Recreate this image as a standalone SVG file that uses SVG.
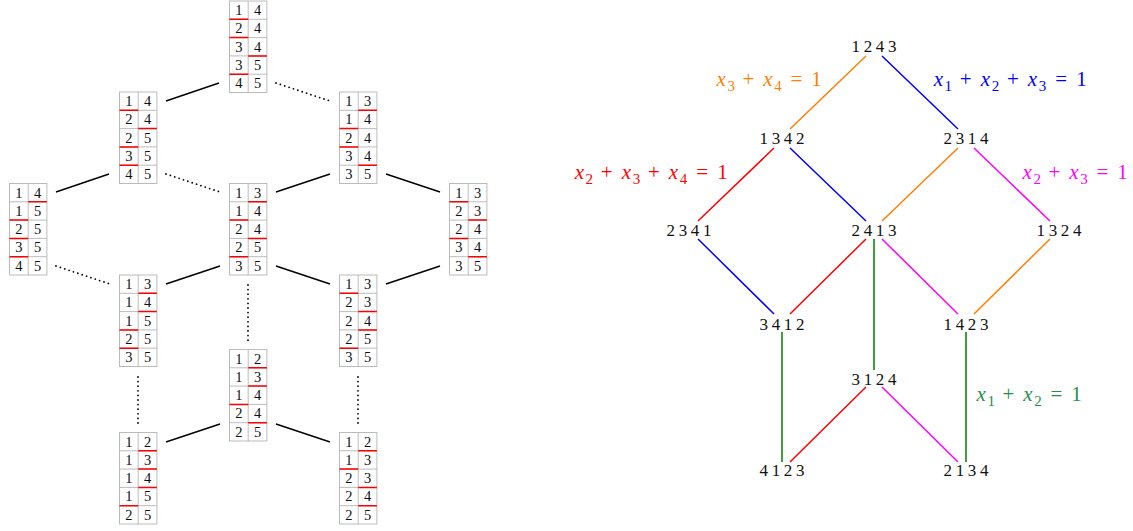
<svg xmlns="http://www.w3.org/2000/svg" xmlns:xlink="http://www.w3.org/1999/xlink" width="1133" height="531" viewBox="0 0 1133 531">
<style>
.gb{fill:#fff;stroke:#b4b4b4;stroke-width:0.9}
.gl{fill:none;stroke:#b4b4b4;stroke-width:0.9}
.r{fill:none;stroke:#ff0000;stroke-width:1.5}
.d{font-family:"Liberation Serif","DejaVu Serif",serif;font-size:14.5px;text-anchor:middle;fill:#111}
.sl{stroke:#000;stroke-width:1.4;fill:none}
.dl{stroke:#000;stroke-width:1.8;fill:none;stroke-dasharray:0 4.6;stroke-linecap:round}
.nd{font-family:"Liberation Serif","DejaVu Serif",serif;font-size:17px;letter-spacing:3.6px;text-anchor:middle;fill:#111}
.lb{font-family:"Liberation Serif","DejaVu Serif",serif;font-size:21px;text-anchor:middle}
.lb .i{font-style:italic}
.lb .s{font-size:15px}
.e{fill:none;stroke-width:1.5}
.or{stroke:#ff8000}.bl{stroke:#0000ff}.rd{stroke:#ff0000}.mg{stroke:#ff00ff}.gr{stroke:#007f00}
</style>
<defs>
<g id="grid"><rect class="gb" width="37.4" height="91.5"/><path class="gl" d="M18.7 0V91.5M0 18.3H37.4M0 36.6H37.4M0 54.9H37.4M0 73.2H37.4"/></g>
</defs>
<g id="connectors">
<path class="sl" d="M166 101L219 83M56 192L109 174M276 192L330 174M386 174L440 192M166 284L220 266M276 266L330 284M386 284L440 266M166 442L220 424M276 424L330 442"/>
<path class="dl" d="M276 83L330 101M166 174L220 192M56 266L110 284M248 285V342M138 377V425M358 377V425"/>
<path class="e or" d="M866 56L790 129M958 148L882 221M1050 239L974 314"/>
<path class="e bl" d="M882 56L958 129M790 148L866 221M698 239L774 314"/>
<path class="e rd" d="M774 148L698 221M866 239L790 314M866 387L790 462"/>
<path class="e mg" d="M974 148L1050 221M882 239L958 314M882 387L958 462"/>
<path class="e gr" d="M874 239V370M782 332V462M966 332V462"/>
</g>
<g id="t1" transform="translate(229.5 1)"><use href="#grid"/><path class="r" d="M0 18.3h18.7M0 36.6h18.7M18.7 54.9h18.7M0 73.2h18.7"/><text class="d"><tspan x="9.35" y="14">1</tspan><tspan x="28.05" y="14">4</tspan><tspan x="9.35" y="32.3">2</tspan><tspan x="28.05" y="32.3">4</tspan><tspan x="9.35" y="50.6">3</tspan><tspan x="28.05" y="50.6">4</tspan><tspan x="9.35" y="68.9">3</tspan><tspan x="28.05" y="68.9">5</tspan><tspan x="9.35" y="87.2">4</tspan><tspan x="28.05" y="87.2">5</tspan></text></g>
<g id="t2" transform="translate(119.5 92)"><use href="#grid"/><path class="r" d="M0 18.3h18.7M18.7 36.6h18.7M0 54.9h18.7M0 73.2h18.7"/><text class="d"><tspan x="9.35" y="14">1</tspan><tspan x="28.05" y="14">4</tspan><tspan x="9.35" y="32.3">2</tspan><tspan x="28.05" y="32.3">4</tspan><tspan x="9.35" y="50.6">2</tspan><tspan x="28.05" y="50.6">5</tspan><tspan x="9.35" y="68.9">3</tspan><tspan x="28.05" y="68.9">5</tspan><tspan x="9.35" y="87.2">4</tspan><tspan x="28.05" y="87.2">5</tspan></text></g>
<g id="t3" transform="translate(339.5 92)"><use href="#grid"/><path class="r" d="M18.7 18.3h18.7M0 36.6h18.7M0 54.9h18.7M18.7 73.2h18.7"/><text class="d"><tspan x="9.35" y="14">1</tspan><tspan x="28.05" y="14">3</tspan><tspan x="9.35" y="32.3">1</tspan><tspan x="28.05" y="32.3">4</tspan><tspan x="9.35" y="50.6">2</tspan><tspan x="28.05" y="50.6">4</tspan><tspan x="9.35" y="68.9">3</tspan><tspan x="28.05" y="68.9">4</tspan><tspan x="9.35" y="87.2">3</tspan><tspan x="28.05" y="87.2">5</tspan></text></g>
<g id="t4" transform="translate(9.5 183.5)"><use href="#grid"/><path class="r" d="M18.7 18.3h18.7M0 36.6h18.7M0 54.9h18.7M0 73.2h18.7"/><text class="d"><tspan x="9.35" y="14">1</tspan><tspan x="28.05" y="14">4</tspan><tspan x="9.35" y="32.3">1</tspan><tspan x="28.05" y="32.3">5</tspan><tspan x="9.35" y="50.6">2</tspan><tspan x="28.05" y="50.6">5</tspan><tspan x="9.35" y="68.9">3</tspan><tspan x="28.05" y="68.9">5</tspan><tspan x="9.35" y="87.2">4</tspan><tspan x="28.05" y="87.2">5</tspan></text></g>
<g id="t5" transform="translate(229.5 183.5)"><use href="#grid"/><path class="r" d="M18.7 18.3h18.7M0 36.6h18.7M18.7 54.9h18.7M0 73.2h18.7"/><text class="d"><tspan x="9.35" y="14">1</tspan><tspan x="28.05" y="14">3</tspan><tspan x="9.35" y="32.3">1</tspan><tspan x="28.05" y="32.3">4</tspan><tspan x="9.35" y="50.6">2</tspan><tspan x="28.05" y="50.6">4</tspan><tspan x="9.35" y="68.9">2</tspan><tspan x="28.05" y="68.9">5</tspan><tspan x="9.35" y="87.2">3</tspan><tspan x="28.05" y="87.2">5</tspan></text></g>
<g id="t6" transform="translate(449.5 183.5)"><use href="#grid"/><path class="r" d="M0 18.3h18.7M18.7 36.6h18.7M0 54.9h18.7M18.7 73.2h18.7"/><text class="d"><tspan x="9.35" y="14">1</tspan><tspan x="28.05" y="14">3</tspan><tspan x="9.35" y="32.3">2</tspan><tspan x="28.05" y="32.3">3</tspan><tspan x="9.35" y="50.6">2</tspan><tspan x="28.05" y="50.6">4</tspan><tspan x="9.35" y="68.9">3</tspan><tspan x="28.05" y="68.9">4</tspan><tspan x="9.35" y="87.2">3</tspan><tspan x="28.05" y="87.2">5</tspan></text></g>
<g id="t7" transform="translate(119.5 275)"><use href="#grid"/><path class="r" d="M18.7 18.3h18.7M18.7 36.6h18.7M0 54.9h18.7M0 73.2h18.7"/><text class="d"><tspan x="9.35" y="14">1</tspan><tspan x="28.05" y="14">3</tspan><tspan x="9.35" y="32.3">1</tspan><tspan x="28.05" y="32.3">4</tspan><tspan x="9.35" y="50.6">1</tspan><tspan x="28.05" y="50.6">5</tspan><tspan x="9.35" y="68.9">2</tspan><tspan x="28.05" y="68.9">5</tspan><tspan x="9.35" y="87.2">3</tspan><tspan x="28.05" y="87.2">5</tspan></text></g>
<g id="t8" transform="translate(339.5 275)"><use href="#grid"/><path class="r" d="M0 18.3h18.7M18.7 36.6h18.7M18.7 54.9h18.7M0 73.2h18.7"/><text class="d"><tspan x="9.35" y="14">1</tspan><tspan x="28.05" y="14">3</tspan><tspan x="9.35" y="32.3">2</tspan><tspan x="28.05" y="32.3">3</tspan><tspan x="9.35" y="50.6">2</tspan><tspan x="28.05" y="50.6">4</tspan><tspan x="9.35" y="68.9">2</tspan><tspan x="28.05" y="68.9">5</tspan><tspan x="9.35" y="87.2">3</tspan><tspan x="28.05" y="87.2">5</tspan></text></g>
<g id="t9" transform="translate(229.5 349.5)"><use href="#grid"/><path class="r" d="M18.7 18.3h18.7M18.7 36.6h18.7M0 54.9h18.7M18.7 73.2h18.7"/><text class="d"><tspan x="9.35" y="14">1</tspan><tspan x="28.05" y="14">2</tspan><tspan x="9.35" y="32.3">1</tspan><tspan x="28.05" y="32.3">3</tspan><tspan x="9.35" y="50.6">1</tspan><tspan x="28.05" y="50.6">4</tspan><tspan x="9.35" y="68.9">2</tspan><tspan x="28.05" y="68.9">4</tspan><tspan x="9.35" y="87.2">2</tspan><tspan x="28.05" y="87.2">5</tspan></text></g>
<g id="t10" transform="translate(119.5 432.5)"><use href="#grid"/><path class="r" d="M18.7 18.3h18.7M18.7 36.6h18.7M18.7 54.9h18.7M0 73.2h18.7"/><text class="d"><tspan x="9.35" y="14">1</tspan><tspan x="28.05" y="14">2</tspan><tspan x="9.35" y="32.3">1</tspan><tspan x="28.05" y="32.3">3</tspan><tspan x="9.35" y="50.6">1</tspan><tspan x="28.05" y="50.6">4</tspan><tspan x="9.35" y="68.9">1</tspan><tspan x="28.05" y="68.9">5</tspan><tspan x="9.35" y="87.2">2</tspan><tspan x="28.05" y="87.2">5</tspan></text></g>
<g id="t11" transform="translate(339.5 432.5)"><use href="#grid"/><path class="r" d="M18.7 18.3h18.7M0 36.6h18.7M18.7 54.9h18.7M18.7 73.2h18.7"/><text class="d"><tspan x="9.35" y="14">1</tspan><tspan x="28.05" y="14">2</tspan><tspan x="9.35" y="32.3">1</tspan><tspan x="28.05" y="32.3">3</tspan><tspan x="9.35" y="50.6">2</tspan><tspan x="28.05" y="50.6">3</tspan><tspan x="9.35" y="68.9">2</tspan><tspan x="28.05" y="68.9">4</tspan><tspan x="9.35" y="87.2">2</tspan><tspan x="28.05" y="87.2">5</tspan></text></g>
<g id="n1243"><text class="nd" x="875.8" y="52">1243</text></g>
<g id="n1342"><text class="nd" x="783.8" y="144">1342</text></g>
<g id="n2314"><text class="nd" x="967.8" y="144">2314</text></g>
<g id="n2341"><text class="nd" x="690.8" y="236">2341</text></g>
<g id="n2413"><text class="nd" x="875.8" y="236">2413</text></g>
<g id="n1324"><text class="nd" x="1060.8" y="236">1324</text></g>
<g id="n3412"><text class="nd" x="783.8" y="330">3412</text></g>
<g id="n1423"><text class="nd" x="967.8" y="330">1423</text></g>
<g id="n3124"><text class="nd" x="875.8" y="385">3124</text></g>
<g id="n4123"><text class="nd" x="783.8" y="476">4123</text></g>
<g id="n2134"><text class="nd" x="967.8" y="476">2134</text></g>
<g id="labels">
<text class="lb" fill="#ff8000" transform="translate(715 86)"><tspan class="i" x="6.2" y="0">x</tspan><tspan class="s" x="16.2" y="5">3</tspan><tspan x="33.4" y="0">+</tspan><tspan class="i" x="52.9" y="0">x</tspan><tspan class="s" x="62.9" y="5">4</tspan><tspan x="81.3" y="0">=</tspan><tspan x="101.4" y="0">1</tspan></text>
<text class="lb" fill="#0000ff" transform="translate(932 86)"><tspan class="i" x="6.3" y="0">x</tspan><tspan class="s" x="16.3" y="5">1</tspan><tspan x="33.7" y="0">+</tspan><tspan class="i" x="53.4" y="0">x</tspan><tspan class="s" x="63.5" y="5">2</tspan><tspan x="80.8" y="0">+</tspan><tspan class="i" x="100.5" y="0">x</tspan><tspan class="s" x="110.6" y="5">3</tspan><tspan x="129.2" y="0">=</tspan><tspan x="149.4" y="0">1</tspan></text>
<text class="lb" fill="#ff0000" transform="translate(573 179)"><tspan class="i" x="6.3" y="0">x</tspan><tspan class="s" x="16.3" y="5">2</tspan><tspan x="33.7" y="0">+</tspan><tspan class="i" x="53.4" y="0">x</tspan><tspan class="s" x="63.5" y="5">3</tspan><tspan x="80.8" y="0">+</tspan><tspan class="i" x="100.5" y="0">x</tspan><tspan class="s" x="110.6" y="5">4</tspan><tspan x="129.2" y="0">=</tspan><tspan x="149.4" y="0">1</tspan></text>
<text class="lb" fill="#ff00ff" transform="translate(1021 179)"><tspan class="i" x="6.2" y="0">x</tspan><tspan class="s" x="16.2" y="5">2</tspan><tspan x="33.4" y="0">+</tspan><tspan class="i" x="52.9" y="0">x</tspan><tspan class="s" x="62.9" y="5">3</tspan><tspan x="81.3" y="0">=</tspan><tspan x="101.4" y="0">1</tspan></text>
<text class="lb" fill="#1f8f4a" transform="translate(975 401)"><tspan class="i" x="6.2" y="0">x</tspan><tspan class="s" x="16.2" y="5">1</tspan><tspan x="33.4" y="0">+</tspan><tspan class="i" x="52.9" y="0">x</tspan><tspan class="s" x="62.9" y="5">2</tspan><tspan x="81.3" y="0">=</tspan><tspan x="101.4" y="0">1</tspan></text>
</g>
</svg>
